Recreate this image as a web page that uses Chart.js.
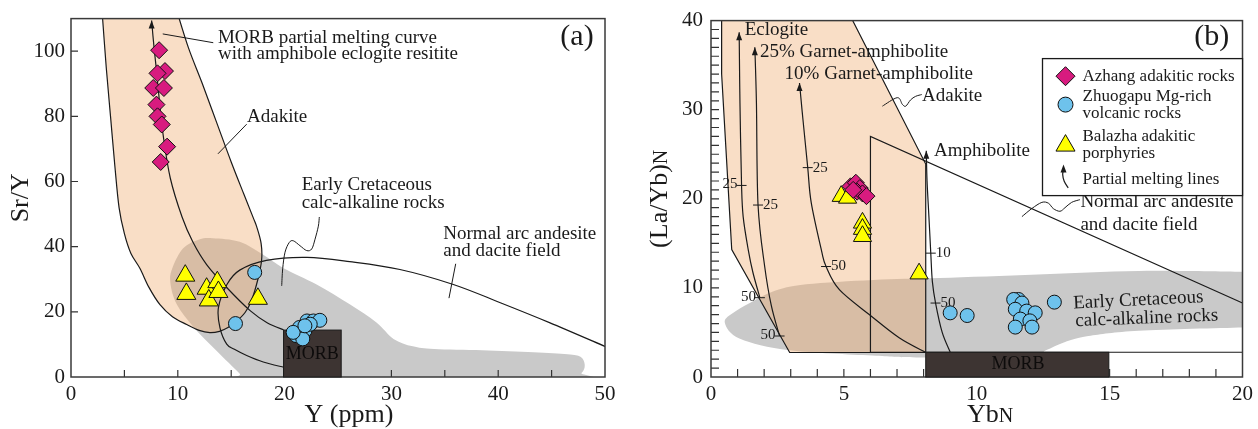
<!DOCTYPE html>
<html>
<head>
<meta charset="utf-8">
<script src="https://cdn.jsdelivr.net/npm/chart.js@4.4.1/dist/chart.umd.min.js"></script>
<style>
  html, body { margin: 0; padding: 0; background: #fff; }
  #wrap { position: relative; width: 1258px; height: 429px; }
  .panel { position: absolute; top: 0; height: 429px; }
</style>
</head>
<body>
<div id="wrap">
  <div class="panel" style="left:0;width:630px"><canvas id="chartA"></canvas></div>
  <div class="panel" style="left:630px;width:628px"><canvas id="chartB"></canvas></div>
</div>
<script>
// ---- panel (a): Sr/Y vs Y (ppm) ----
const azhangA = [[8.25,100.3],[8.8,93.9],[8.1,93.2],[7.7,88.7],[8.7,88.7],[8.0,83.6],[8.1,80.0],[8.5,77.5],[9.0,70.7],[8.4,66.0]];
const zhuogapuA = [[17.2,32.1],[15.4,16.4],[21.4,15.2],[21.9,14.2],[21.1,12.7],[21.7,11.7],[22.1,17.2],[22.7,17.2],[23.3,17.4],[22.4,16.2],[20.8,13.7],[21.9,15.7]];
const balazhaA = [[10.7,31.1],[10.8,25.5],[12.7,27.1],[12.9,23.5],[13.7,29.1],[13.8,26.1],[17.5,24.0]];

// field outlines (Y, Sr/Y)
const adakiteA = [[2.87,114],[3.3,95],[3.7,80],[4.1,65],[4.5,52],[5.0,44],[5.6,38],[6.46,33.3],[7.3,27.5],[8.33,22.2],[9.5,18.5],[10.83,16.1],[12.0,14.3],[13.0,13.6],[13.9,14.0],[14.7,15.2],[15.4,16.8],[16.3,19.8],[16.9,23.5],[17.5,30],[17.85,36],[17.8,41],[17.4,46],[17.05,49],[16.2,56],[15.0,66],[13.65,78],[12.3,90],[11.0,101],[9.85,113]];
const grayA = [[9.3,29],[9.5,33.5],[10.5,39.5],[12,42.2],[13.3,42.6],[15.8,41.5],[18,37.5],[19.9,33.4],[23,28.4],[26.1,22.3],[28.6,16.7],[30.2,11.7],[32,9.4],[34,8.6],[38.5,8.2],[43.3,7.6],[46.5,7.0],[47.7,6.2],[48.1,3.8],[47.8,1.2],[46.5,-1],[16.4,-1],[15.8,1],[13.6,8.1],[11.5,15.2],[9.9,22.3]];
const arcA = [[19.9,3.0],[18.0,4.6],[16.45,6.6],[15.3,8.5],[14.58,10.1],[13.95,15.1],[13.8,21.2],[14.6,28.4],[15.8,32.8],[18.3,35.8],[22.1,36.7],[26.1,35.4],[30.8,33.0],[35.8,28.4],[40.2,22.8],[44.8,16.7],[50,9.4],[51,8.0]];
const meltA = [[7.55,109.4],[7.75,102],[8.0,94.2],[8.3,84],[8.64,74],[9.3,61],[10.4,49.1],[11.4,41.5],[12.7,34.5],[14.6,27.4],[16.8,20.3],[18.4,16.6],[19.9,14.5]];
const morbA = [19.9, 0, 25.3, 14.4];

// ---- panel (b): (La/Yb)N vs YbN ----
const azhangB = [[5.25,21.4],[5.45,21.8],[5.6,21.2],[5.5,20.8],[5.7,20.6],[5.85,20.3],[5.35,21.0]];
const zhuogapuB = [[9.0,7.2],[9.64,6.9],[11.57,8.7],[11.39,8.7],[11.7,8.3],[11.45,7.6],[11.88,7.4],[12.2,7.2],[11.64,6.5],[12.0,6.3],[11.45,5.6],[12.08,5.6],[12.92,8.4]];
const balazhaB = [[4.9,20.3],[5.14,20.1],[5.7,17.3],[5.7,16.6],[5.7,15.8],[7.83,11.6]];

const adakiteB = [[0.4,40.5],[0.4,34.0],[0.78,14.3],[2.96,2.75],[8.08,2.75],[8.08,23.9],[5.33,40],[5.245,40.5]];
const arcB = [[20,8.3],[6.0,27.0],[6.0,2.78],[20,2.78]];
const grayB = [[0.52,6.1],[0.84,7.2],[1.46,8.3],[2.33,9.6],[3.58,10.4],[6.1,10.9],[8.6,11.1],[12.3,11.5],[16.1,11.9],[20,11.8],[21,11.8],[21,5.6],[20,5.56],[16.1,5.2],[14.2,4.6],[13.3,3.9],[12.6,3.0],[12,2.5],[7.95,2.2],[6.07,2.4],[2.96,3.0],[1.09,4.3]];
const eclogite = [[1.06,38.7],[1.09,30.7],[1.15,21.5],[1.21,18],[1.4,14.3],[1.58,11.7],[1.84,8.9]];
const garnet25 = [[1.65,37.0],[1.71,30.7],[1.77,19.3],[2.02,12.4],[2.27,8.0],[2.58,4.6]];
const garnet10 = [[3.33,33.0],[3.46,28.9],[3.64,23.5],[3.77,19.6],[4.15,14.3],[4.33,12.4],[4.83,9.8],[6.0,6.9],[7.08,4.4],[8.05,2.8]];
const amphibolite = [[8.1,25.4],[8.13,22],[8.2,18],[8.27,13.9],[8.33,10.7],[8.45,8.3],[8.7,5.0],[9.0,2.8]];
// melting-degree marks on the curves: x, y, label, side
const curveMarks = [[1.15,21.5,'25','L'],[1.77,19.3,'25','R'],[3.64,23.5,'25','R'],[4.33,12.4,'50','R'],[1.84,8.9,'50','L'],[2.58,4.6,'50','L'],[8.27,13.9,'10','R'],[8.45,8.3,'50','R']];
const morbB = [8.08, 0, 14.97, 2.78];

const FAMILY = '"Liberation Serif", "Times New Roman", serif';
const INK = '#1a1a1a';
const PEACH = 'rgba(240,172,112,0.40)';
const GRAY = '#c9c9c9';
const MORB_FILL = '#3d3432';
const C_AZ = '#d81b7f', C_ZH = '#6ec2ec', C_BA = '#ffff00';

function toPx(chart) {
    const x = chart.scales.x, y = chart.scales.y;
    return p => [x.getPixelForValue(p[0]), y.getPixelForValue(p[1])];
}

// catmull-rom through pixel points
function smooth(ctx, pts, closed) {
    const n = pts.length;
    ctx.moveTo(pts[0][0], pts[0][1]);
    const last = closed ? n : n - 1;
    for (let i = 0; i < last; i++) {
        const p0 = pts[closed ? (i - 1 + n) % n : Math.max(i - 1, 0)];
        const p1 = pts[i];
        const p2 = pts[(i + 1) % n];
        const p3 = pts[closed ? (i + 2) % n : Math.min(i + 2, n - 1)];
        ctx.bezierCurveTo(
            p1[0] + (p2[0] - p0[0]) / 6, p1[1] + (p2[1] - p0[1]) / 6,
            p2[0] - (p3[0] - p1[0]) / 6, p2[1] - (p3[1] - p1[1]) / 6,
            p2[0], p2[1]);
    }
    if (closed) ctx.closePath();
}

function poly(ctx, pts) {
    ctx.moveTo(pts[0][0], pts[0][1]);
    for (let i = 1; i < pts.length; i++) ctx.lineTo(pts[i][0], pts[i][1]);
}

function text(ctx, s, x, y, size, align, rot) {
    ctx.save();
    ctx.font = size + 'px ' + FAMILY;
    ctx.fillStyle = INK;
    ctx.textAlign = align || 'left';
    ctx.textBaseline = 'middle';
    ctx.translate(x, y);
    if (rot) ctx.rotate(rot);
    ctx.fillText(s, 0, 0);
    ctx.restore();
}

function arrowUp(ctx, x, y) {
    ctx.beginPath();
    ctx.moveTo(x, y);
    ctx.lineTo(x - 3, y + 8);
    ctx.lineTo(x + 3, y + 8);
    ctx.closePath();
    ctx.fill();
}

function innerTicks(chart, xStep, yStep, len) {
    const {ctx, chartArea: a, scales: {x, y}} = chart;
    ctx.beginPath();
    for (let v = x.min + xStep; v < x.max - 1e-6; v += xStep) {
        const p = x.getPixelForValue(v);
        ctx.moveTo(p, a.bottom); ctx.lineTo(p, a.bottom - len);
    }
    for (let v = y.min + yStep; v < y.max - 1e-6; v += yStep) {
        const p = y.getPixelForValue(v);
        ctx.moveTo(a.left, p); ctx.lineTo(a.left + len, p);
    }
    ctx.strokeStyle = '#333';
    ctx.lineWidth = 1.2;
    ctx.stroke();
}

function frame(chart) {
    const {ctx, chartArea: a} = chart;
    ctx.save();
    ctx.strokeStyle = '#3a3a3a';
    ctx.lineWidth = 1.5;
    ctx.strokeRect(a.left, a.top, a.right - a.left, a.bottom - a.top);
    ctx.restore();
}

function morbBox(chart, box, labelPos) {
    const {ctx} = chart;
    const P = toPx(chart);
    const p0 = P([box[0], box[1]]), p1 = P([box[2], box[3]]);
    ctx.fillStyle = MORB_FILL;
    ctx.fillRect(p0[0], p1[1], p1[0] - p0[0], p0[1] - p1[1]);
    ctx.strokeStyle = INK;
    ctx.lineWidth = 1;
    ctx.strokeRect(p0[0], p1[1], p1[0] - p0[0], p0[1] - p1[1]);
    const t = P(labelPos);
    ctx.save();
    ctx.font = '18px ' + FAMILY;
    ctx.fillStyle = '#0d0b0b';
    ctx.textAlign = 'center';
    ctx.textBaseline = 'middle';
    ctx.fillText('MORB', t[0], t[1]);
    ctx.restore();
}

function marker(ctx, style, x, y, r, color) {
    ctx.beginPath();
    if (style === 'rectRot') {
        ctx.moveTo(x - r, y); ctx.lineTo(x, y - r); ctx.lineTo(x + r, y); ctx.lineTo(x, y + r);
        ctx.closePath();
    } else if (style === 'triangle') {
        const h = r * Math.sin(Math.PI / 3);
        ctx.moveTo(x, y - r); ctx.lineTo(x + h, y + r / 2); ctx.lineTo(x - h, y + r / 2);
        ctx.closePath();
    } else {
        ctx.arc(x, y, r, 0, Math.PI * 2);
    }
    ctx.fillStyle = color;
    ctx.fill();
    ctx.strokeStyle = '#111';
    ctx.lineWidth = 1;
    ctx.stroke();
}

function rotatedTitle(ctx, main, sub, cx, cy, size) {
    ctx.save();
    ctx.translate(cx, cy);
    ctx.rotate(-Math.PI / 2);
    ctx.fillStyle = INK;
    ctx.textBaseline = 'alphabetic';
    ctx.font = size + 'px ' + FAMILY;
    const w1 = ctx.measureText(main).width;
    let w2 = 0;
    if (sub) { ctx.font = Math.round(size * 0.78) + 'px ' + FAMILY; w2 = ctx.measureText(sub).width; }
    ctx.font = size + 'px ' + FAMILY;
    ctx.textAlign = 'left';
    ctx.fillText(main, -(w1 + w2) / 2, size * 0.33);
    if (sub) {
        ctx.font = Math.round(size * 0.78) + 'px ' + FAMILY;
        ctx.fillText(sub, -(w1 + w2) / 2 + w1, size * 0.33);
    }
    ctx.restore();
}

function flatTitle(ctx, main, sub, cx, cy, size) {
    ctx.save();
    ctx.fillStyle = INK;
    ctx.textBaseline = 'alphabetic';
    ctx.font = size + 'px ' + FAMILY;
    const w1 = ctx.measureText(main).width;
    let w2 = 0;
    if (sub) { ctx.font = Math.round(size * 0.78) + 'px ' + FAMILY; w2 = ctx.measureText(sub).width; }
    ctx.font = size + 'px ' + FAMILY;
    ctx.fillText(main, cx - (w1 + w2) / 2, cy + size * 0.33);
    if (sub) {
        ctx.font = Math.round(size * 0.78) + 'px ' + FAMILY;
        ctx.fillText(sub, cx - (w1 + w2) / 2 + w1, cy + size * 0.33);
    }
    ctx.restore();
}

const drawA = {
    id: 'drawA',
    beforeDatasetsDraw(chart) {
        const {ctx, chartArea: a} = chart;
        const P = toPx(chart);
        ctx.save();
        ctx.beginPath();
        ctx.rect(a.left, a.top, a.right - a.left, a.bottom - a.top);
        ctx.clip();

        ctx.fillStyle = GRAY;
        ctx.beginPath(); smooth(ctx, grayA.map(P), true); ctx.fill();

        ctx.fillStyle = PEACH;
        ctx.beginPath(); smooth(ctx, adakiteA.map(P), false); ctx.closePath(); ctx.fill();

        ctx.strokeStyle = INK;
        ctx.lineWidth = 1.2;
        ctx.beginPath(); smooth(ctx, adakiteA.map(P), false); ctx.stroke();
        ctx.beginPath(); smooth(ctx, arcA.map(P), false); ctx.stroke();
        ctx.beginPath(); smooth(ctx, meltA.map(P), false); ctx.stroke();
        ctx.fillStyle = INK;
        const tip = P(meltA[0]);
        arrowUp(ctx, tip[0], tip[1]);

        innerTicks(chart, 5, 20, 7);
        ctx.restore();
        frame(chart);
        morbBox(chart, morbA, [22.6, 7.0]);

        // annotations
        ctx.save();
        ctx.strokeStyle = INK;
        ctx.lineWidth = 1;
        ctx.beginPath(); poly(ctx, [[8.59,105.3],[13.32,102.6]].map(P)); ctx.stroke();
        ctx.beginPath(); poly(ctx, [[13.76,68.5],[16.45,77.6]].map(P)); ctx.stroke();
        ctx.beginPath(); smooth(ctx, [[19.73,28.0],[19.82,33.2],[20.04,38.3],[20.44,41.3],[20.82,41.8],[21.44,40.3],[22.07,38.8],[22.54,39.3],[22.85,42.3],[23.16,46.3],[23.25,49.1]].map(P), false); ctx.stroke();
        ctx.beginPath(); poly(ctx, [[36.02,34.75],[35.39,24.2]].map(P)); ctx.stroke();
        ctx.restore();

        let p;
        p = P([13.76, 103.9]); text(ctx, 'MORB partial melting curve', p[0], p[1], 19);
        p = P([13.76, 99.0]); text(ctx, 'with amphibole eclogite resitite', p[0], p[1], 19);
        p = P([16.48, 79.8]); text(ctx, 'Adakite', p[0], p[1], 19);
        p = P([21.6, 58.9]); text(ctx, 'Early Cretaceous', p[0], p[1], 19);
        p = P([21.6, 53.4]); text(ctx, 'calc-alkaline rocks', p[0], p[1], 19);
        p = P([34.86, 43.8]); text(ctx, 'Normal arc andesite', p[0], p[1], 19);
        p = P([34.86, 38.8]); text(ctx, 'and dacite field', p[0], p[1], 19);
        p = P([47.38, 104.2]); text(ctx, '(a)', p[0], p[1], 30, 'center');

        rotatedTitle(ctx, 'Sr/Y', '', 19, (a.top + a.bottom) / 2, 26);
        flatTitle(ctx, 'Y (ppm)', '', 349, 413, 26);
    }
};

const drawB = {
    id: 'drawB',
    beforeDatasetsDraw(chart) {
        const {ctx, chartArea: a} = chart;
        const P = toPx(chart);
        ctx.save();
        ctx.beginPath();
        ctx.rect(a.left, a.top, a.right - a.left, a.bottom - a.top);
        ctx.clip();

        ctx.fillStyle = GRAY;
        ctx.beginPath(); smooth(ctx, grayB.map(P), true); ctx.fill();

        ctx.fillStyle = PEACH;
        ctx.beginPath(); poly(ctx, adakiteB.map(P)); ctx.closePath(); ctx.fill();
        ctx.strokeStyle = INK;
        ctx.lineWidth = 1.2;
        ctx.beginPath(); poly(ctx, adakiteB.map(P)); ctx.stroke();
        ctx.beginPath(); poly(ctx, arcB.map(P)); ctx.stroke();

        ctx.fillStyle = INK;
        [eclogite, garnet25, garnet10, amphibolite].forEach(c => {
            ctx.beginPath(); smooth(ctx, c.map(P), false); ctx.stroke();
            const t = P(c[0]);
            arrowUp(ctx, t[0], t[1]);
        });

        ctx.lineWidth = 1;
        curveMarks.forEach(m => {
            const q = P([m[0], m[1]]);
            ctx.beginPath(); ctx.moveTo(q[0] - 5, q[1]); ctx.lineTo(q[0] + 5, q[1]); ctx.stroke();
            if (m[3] === 'L') text(ctx, m[2], q[0] - 4, q[1] - 1, 15, 'right');
            else text(ctx, m[2], q[0] + 5, q[1], 15, 'left');
        });

        innerTicks(chart, 1, 1, 8);
        ctx.restore();
        frame(chart);
        morbBox(chart, morbB, [11.55, 1.45]);

        ctx.save();
        ctx.strokeStyle = INK;
        ctx.lineWidth = 1;
        ctx.beginPath(); smooth(ctx, [[6.45,30.4],[7.01,31.35],[7.2,30.6],[7.33,30.4],[7.51,31.1],[7.7,31.5],[7.93,31.7]].map(P), false); ctx.stroke();
        ctx.beginPath(); smooth(ctx, [[11.7,18.0],[12.07,18.9],[12.45,19.6],[12.7,19.5],[12.88,18.9],[13.13,18.6],[13.32,19.0],[13.57,19.6],[13.88,19.9]].map(P), false); ctx.stroke();
        ctx.restore();

        let p;
        p = P([1.27, 38.9]); text(ctx, 'Eclogite', p[0], p[1], 19);
        p = P([1.84, 36.5]); text(ctx, '25% Garnet-amphibolite', p[0], p[1], 19);
        p = P([2.77, 34.0]); text(ctx, '10% Garnet-amphibolite', p[0], p[1], 19);
        p = P([7.94, 31.5]); text(ctx, 'Adakite', p[0], p[1], 19);
        p = P([8.39, 25.4]); text(ctx, 'Amphibolite', p[0], p[1], 19);
        p = P([13.9, 19.6]); text(ctx, 'Normal arc andesite', p[0], p[1], 19);
        p = P([13.9, 17.1]); text(ctx, 'and dacite field', p[0], p[1], 19);
        p = P([13.63, 8.24]); text(ctx, 'Early Cretaceous', p[0], p[1], 19, 'left', -0.05);
        p = P([13.71, 6.26]); text(ctx, 'calc-alkaline rocks', p[0], p[1], 19, 'left', -0.04);
        p = P([18.84, 38.1]); text(ctx, '(b)', p[0], p[1], 30, 'center');

        rotatedTitle(ctx, '(La/Yb)', 'N', 28, (a.top + a.bottom) / 2, 26);
        flatTitle(ctx, 'Yb', 'N', 360, 413, 26);
    },
    afterDatasetsDraw(chart) {
        const {ctx, chartArea: a} = chart;
        const L = a.right - 200, T = a.top + 38, W = 200, H = 137;
        ctx.save();
        ctx.fillStyle = '#fff';
        ctx.fillRect(L, T, W, H);
        ctx.strokeStyle = INK;
        ctx.lineWidth = 1.3;
        ctx.strokeRect(L, T, W, H);
        marker(ctx, 'rectRot', L + 23, T + 17.6, 9.5, C_AZ);
        marker(ctx, 'circle', L + 23, T + 46, 7.5, C_ZH);
        marker(ctx, 'triangle', L + 23, T + 87, 11, C_BA);
        ctx.strokeStyle = INK;
        ctx.lineWidth = 1.2;
        ctx.beginPath(); smooth(ctx, [[L + 25.7, T + 129.3], [L + 21.7, T + 122.6], [L + 20.2, T + 116], [L + 21, T + 111]], false); ctx.stroke();
        ctx.fillStyle = INK;
        arrowUp(ctx, L + 21, T + 106);
        ctx.restore();
        text(ctx, 'Azhang adakitic rocks', L + 40, T + 17.6, 17);
        text(ctx, 'Zhuogapu Mg-rich', L + 40, T + 37.6, 17);
        text(ctx, 'volcanic rocks', L + 40, T + 55.3, 17);
        text(ctx, 'Balazha adakitic', L + 40, T + 77.6, 17);
        text(ctx, 'porphyries', L + 40, T + 95, 17);
        text(ctx, 'Partial melting lines', L + 40, T + 121, 17);
    }
};

function pts(arr) { return arr.map(p => ({x: p[0], y: p[1]})); }

function markerSet(label, arr, style, color, r) {
    return {
        label, data: pts(arr), pointStyle: style,
        pointRadius: r, pointHoverRadius: r,
        backgroundColor: color, borderColor: '#111', borderWidth: 1,
        showLine: false
    };
}

function options(xMin, xMax, xStep, yMin, yMax, yStep, padRight, yWidth, yPad) {
    const tickFont = {family: FAMILY, size: 21};
    return {
        responsive: true,
        maintainAspectRatio: false,
        animation: false,
        devicePixelRatio: 1,
        events: [],
        layout: {padding: {left: 0, right: padRight, top: 13, bottom: 0}},
        plugins: {legend: {display: false}, tooltip: {enabled: false}},
        scales: {
            x: {
                type: 'linear', min: xMin, max: xMax,
                grid: {display: false, drawTicks: false},
                border: {display: false},
                ticks: {stepSize: xStep, includeBounds: false, font: tickFont, color: INK, padding: 5, maxRotation: 0},
                afterFit(s) { s.height = 52; }
            },
            y: {
                type: 'linear', min: yMin, max: yMax,
                grid: {display: false, drawTicks: false},
                border: {display: false},
                ticks: {stepSize: yStep, includeBounds: false, font: tickFont, color: INK, padding: yPad},
                afterFit(s) { s.width = yWidth; }
            }
        }
    };
}

new Chart(document.getElementById('chartA'), {
    type: 'scatter',
    data: {
        datasets: [
            markerSet('Zhuogapu Mg-rich volcanic rocks', zhuogapuA, 'circle', C_ZH, 7),
            markerSet('Azhang adakitic rocks', azhangA, 'rectRot', C_AZ, 8.5),
            markerSet('Balazha adakitic porphyries', balazhaA, 'triangle', C_BA, 11)
        ]
    },
    options: options(0, 50, 10, 0, 110, 20, 25, 71, 6),
    plugins: [drawA]
});

new Chart(document.getElementById('chartB'), {
    type: 'scatter',
    data: {
        datasets: [
            markerSet('Azhang adakitic rocks', azhangB, 'rectRot', C_AZ, 8.5),
            markerSet('Zhuogapu Mg-rich volcanic rocks', zhuogapuB, 'circle', C_ZH, 7),
            markerSet('Balazha adakitic porphyries', balazhaB, 'triangle', C_BA, 10.5)
        ]
    },
    options: options(0, 20, 5, 0, 40, 10, 13, 81, 8),
    plugins: [drawB]
});
</script>
</body>
</html>
